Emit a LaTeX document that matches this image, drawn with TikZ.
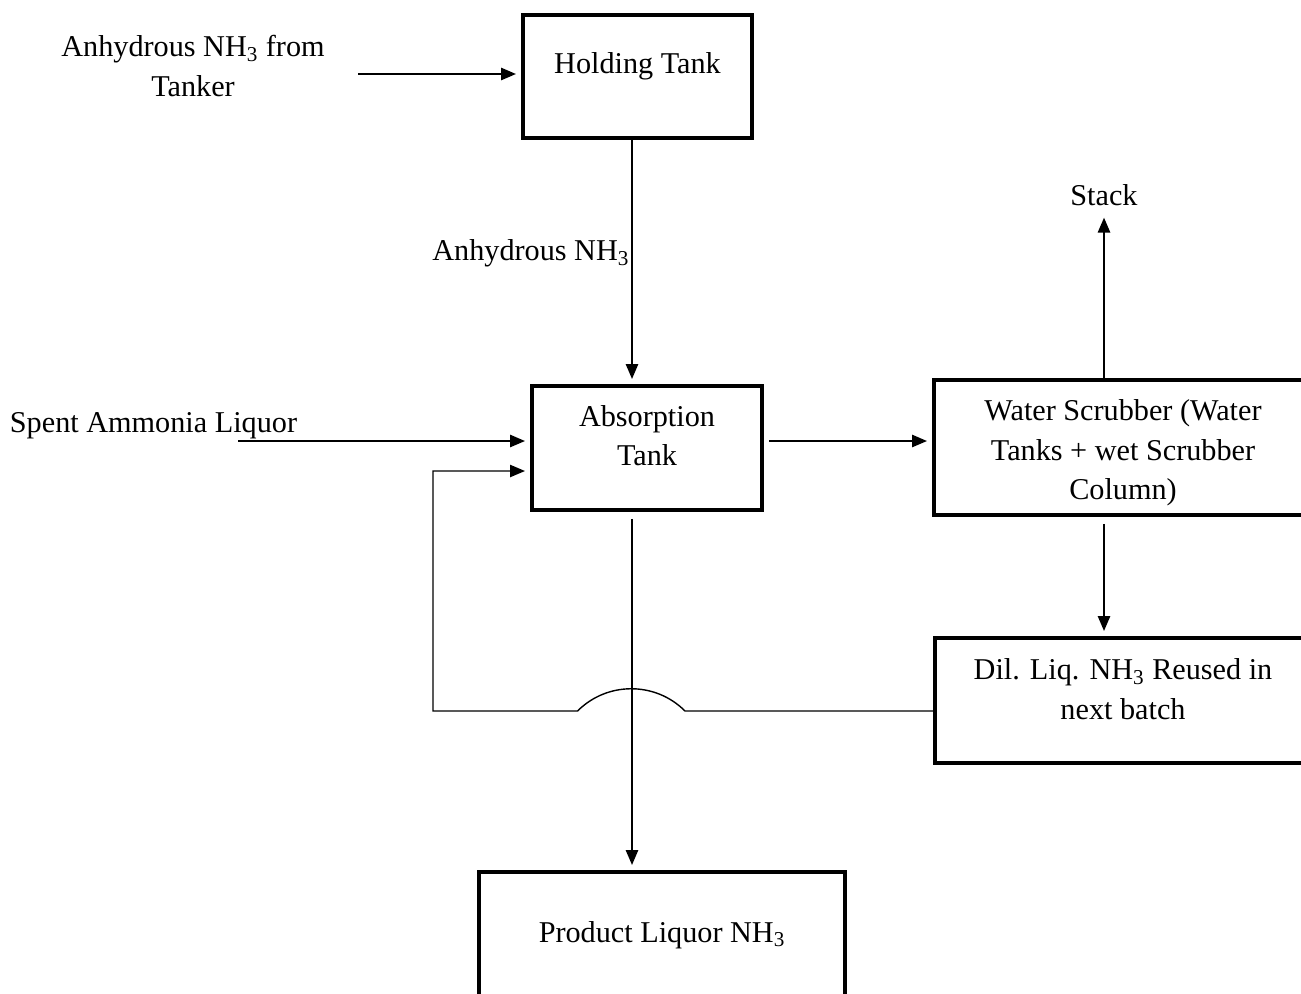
\documentclass[tikz,border=0pt]{standalone}
\usepackage{fontspec}
\setmainfont{Liberation Serif}
\usetikzlibrary{arrows.meta, positioning}

\begin{document}
\begin{tikzpicture}[>={Triangle[length=8.5pt,width=7pt]}, line width=1pt,
    every node/.style={font=\fontsize{17.2}{22.5}\selectfont, align=center},
    tank/.style={draw, line width=2pt, inner sep=0pt},
    flow/.style={->, shorten >=3pt}]
  \path[use as bounding box, clip] (0,0) rectangle (26.02,-19.86);

  % tanks
  \node[tank, minimum width=4.58cm, minimum height=2.46cm,
        label={[yshift=0.21cm]center:Holding Tank}] (hold) at (12.75,-1.53) {};
  \node[tank, minimum width=4.6cm, minimum height=2.48cm,
        label={[yshift=0.25cm]center:Absorption\\Tank}] (absorb) at (12.94,-8.96) {};
  \node[tank, minimum width=7.56cm, minimum height=2.7cm,
        label={[yshift=-0.11cm]center:Water Scrubber (Water\\Tanks + wet Scrubber\\Column)}] (scrub) at (22.46,-8.95) {};
  \node[tank, minimum width=7.52cm, minimum height=2.5cm,
        label={[yshift=0.23cm]center:Dil. Liq. NH\textsubscript{3} Reused in\\next batch}] (dil) at (22.46,-14.01) {};
  \node[tank, minimum width=7.32cm, minimum height=2.52cm,
        label={[yshift=0.0cm]center:Product Liquor NH\textsubscript{3}}] (prod) at (13.24,-18.7) {};

  % free texts
  \node (tanker) at (3.86,-1.32) {Anhydrous NH\textsubscript{3} from\\Tanker};
  \node (spent) at (3.07,-8.52) {Spent Ammonia Liquor};
  \node (stack) at (22.08,-3.9) {Stack};

  \coordinate (tankerout) at (7.16,-1.48);
  \coordinate (spentout) at (4.76,-8.82);
  \coordinate (feed) at (12.64,-5);
  \coordinate (retin) at (8.66,-9.42);
  \coordinate (ret) at (8.66,-14.22);
  \coordinate (hop) at (13.70,-14.22);

  % streams
  \draw[flow] (tankerout) -- (tankerout -| hold.west);
  \draw[flow] (feed |- hold.south) -- node[pos=0.466, left=1pt, inner sep=0pt] {Anhydrous NH\textsubscript{3}} (feed |- absorb.north);
  \draw[flow] (spentout) -- (spentout -| absorb.west);
  \draw[flow, shorten <=3pt] (absorb.east |- spentout) -- (scrub.west |- spentout);
  \draw[flow, shorten <=4pt] (feed |- absorb.south) -- (feed |- prod.north);
  \draw[flow] (stack |- scrub.north) -- (stack.south);
  \draw[flow, shorten <=4pt] (stack |- scrub.south) -- (stack |- dil.north);
  \draw[flow, line width=0.8pt] (ret -| dil.west) -- (hop)
    arc[start angle=45, end angle=135, radius=1.52cm] -- (ret) -- (retin) -- (retin -| absorb.west);
\end{tikzpicture}
\end{document}
